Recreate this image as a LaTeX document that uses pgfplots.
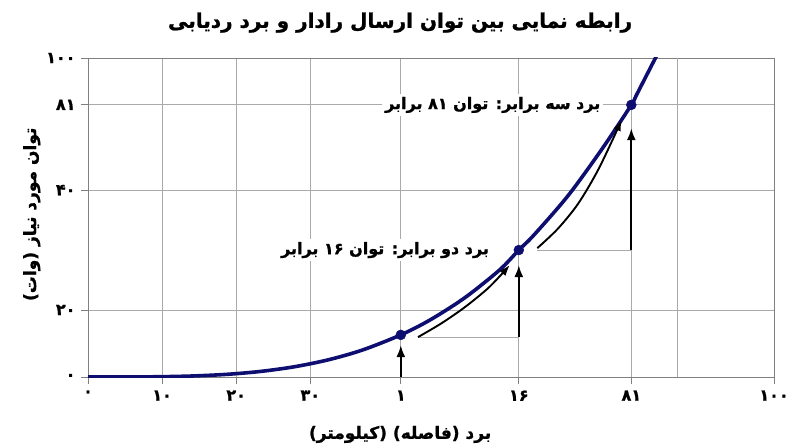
\documentclass[border=0pt]{standalone}
\usepackage{pgfplots}
\pgfplotsset{compat=1.18}
\usetikzlibrary{arrows.meta}
\usepackage{fontspec}
\TeXXeTstate=1
\newfontfamily\fa[Script=Arabic, BoldFeatures={FakeBold=1.2}]{DejaVu Sans}
\definecolor{navy}{RGB}{14,14,112}
\definecolor{gridgray}{RGB}{170,170,170}
\definecolor{axisgray}{RGB}{128,128,128}

% curve, in plot units (x: 0..100 across the frame, y: 0..100 up the frame)
\pgfplotstableread{
x y
0 0
5 0.007
10 0.076
15 0.30
20 0.80
25 1.71
30 3.18
35 5.37
40 8.45
45.6 13.2
50 18.05
55 24.96
60 33.56
62.8 39.8
65 44.5
70 56.9
75 71.7
79.2 85.3
80 88.6
83 101.2
}\curve

\begin{document}
\begin{tikzpicture}
\path (0pt,0pt) rectangle (800pt,447pt);
\begin{axis}[
    at={(88pt,70pt)}, anchor=south west,
    scale only axis, width=686pt, height=319pt,
    xmin=0, xmax=100, ymin=0, ymax=100,
    axis line style={axisgray, line width=0.9pt},
    grid=major,
    major grid style={gridgray, line width=0.8pt},
    tick pos=left, tick align=outside,
    major tick length=7pt,
    tick style={axisgray, line width=0.8pt},
    xtick={0,10.8,21.6,32.4,45.6,62.8,79.2,100},
    xticklabels={۰,۱۰,۲۰,۳۰,۱,۱۶,۸۱,۱۰۰},
    ytick={0,21,58.6,85.3,100},
    yticklabels={۰,۲۰,۴۰,۸۱,۱۰۰},
    ticklabel style={font=\fa\bfseries\fontsize{16}{19}\selectfont},
    xticklabel style={yshift=-3pt},
    yticklabel style={xshift=-2pt},
    title={\beginR رابطه نمایی بین توان ارسال رادار و برد ردیابی\endR},
    title style={at={(axis description cs:0.455,1.092)}, anchor=center,
        font=\fa\bfseries\fontsize{20}{24}\selectfont},
    xlabel={\beginR برد (فاصله) (کیلومتر)\endR},
    xlabel style={at={(axis description cs:0.455,-0.18)}, anchor=center,
        font=\fa\bfseries\fontsize{17}{20}\selectfont},
    ylabel={\beginR توان مورد نیاز (وات)\endR},
    ylabel style={at={(axis description cs:-0.082,0.51)}, anchor=center, rotate=0,
        font=\fa\bfseries\fontsize{17}{20}\selectfont},
]
% unlabelled grid line
\addplot[gridgray, line width=0.8pt] coordinates {(85.9,0) (85.9,100)};
% step lines
\addplot[gridgray, line width=0.8pt] coordinates {(48.1,12.5) (62.8,12.5)};
\addplot[gridgray, line width=0.8pt] coordinates {(65.5,39.8) (79.2,39.8)};
% labels
\node[fill=white, inner sep=3pt, font=\fa\bfseries\fontsize{16}{19}\selectfont]
    at (axis cs:59.0,85.3) {\beginR برد سه برابر: توان ۸۱ برابر\endR};
\node[fill=white, inner sep=3pt, font=\fa\bfseries\fontsize{16}{19}\selectfont]
    at (axis cs:43.3,39.8) {\beginR برد دو برابر: توان ۱۶ برابر\endR};
% curve
\addplot[navy, line width=3.6pt, smooth] table {\curve};
% arrows
\addplot[black, line width=2.2pt, -{Latex[length=12pt,width=9pt]}] coordinates {(45.6,0) (45.6,10.0)};
\addplot[black, line width=2.2pt, -{Latex[length=12pt,width=9pt]}] coordinates {(62.8,12.5) (62.8,35.1)};
\addplot[black, line width=2.2pt, -{Latex[length=12pt,width=9pt]}] coordinates {(79.2,39.8) (79.2,78.0)};
\addplot[black, line width=1.9pt, smooth, -{Latex[length=11pt,width=8pt]}] coordinates {
    (48.1,12.5) (51.5,16.8) (55,22.0) (58.5,28.2) (61.5,35.1)};
\addplot[black, line width=1.9pt, smooth, -{Latex[length=11pt,width=8pt]}] coordinates {
    (65.5,40.4) (68.5,46.5) (71.5,54.5) (74.5,65.5) (77.8,80.6)};
% points
\addplot[only marks, mark=*, mark size=5pt, navy] coordinates {(45.6,13.2) (62.8,39.8) (79.2,85.3)};
\end{axis}
\end{tikzpicture}
\end{document}
